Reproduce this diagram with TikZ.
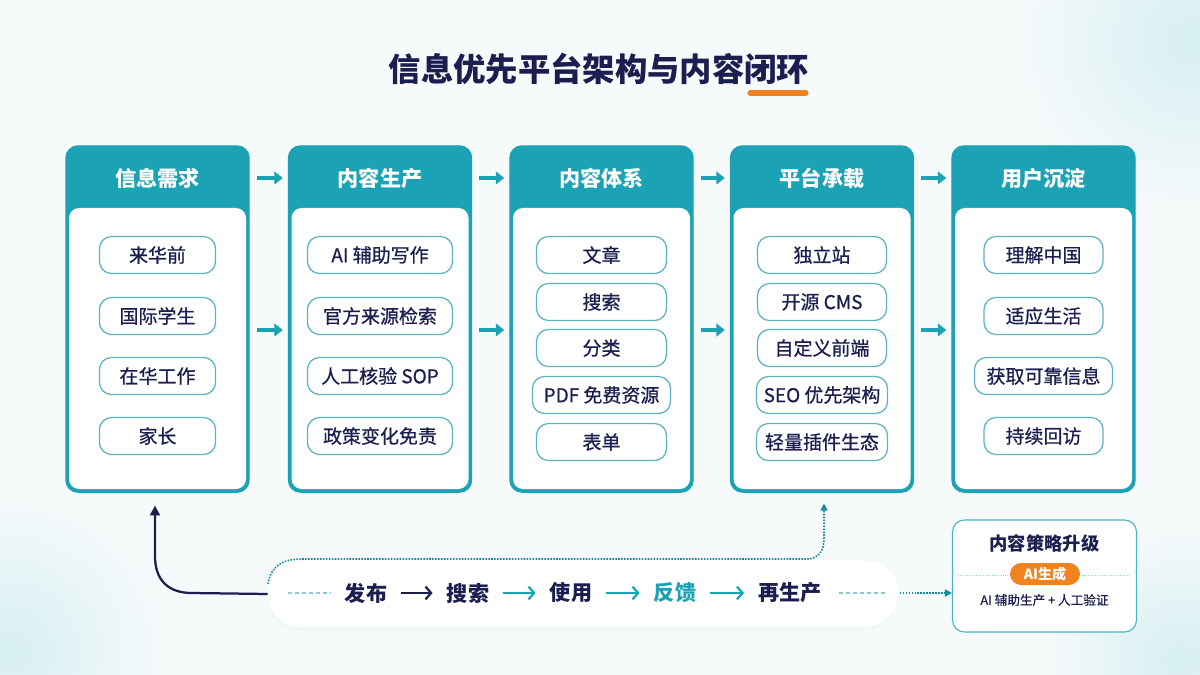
\documentclass[tikz,border=0pt]{standalone}
\usepackage{fontspec}
\setmainfont{Noto Sans CJK SC}
\newfontfamily\medfont{Noto Sans CJK SC}[FakeBold=0.7]
\usetikzlibrary{arrows.meta,positioning,shadows}

\definecolor{brandteal}{HTML}{1BA2B4}
\definecolor{inknavy}{HTML}{1B1E4F}
\definecolor{pillline}{HTML}{5DB4C0}
\definecolor{accent}{HTML}{F0821F}
\definecolor{bgcol}{HTML}{F7FAFB}
\definecolor{blob}{HTML}{D6EFF2}

\begin{document}
\begin{tikzpicture}[x=0.025cm, y=-0.025cm, >=Stealth,
  colbox/.style={draw=brandteal, fill=brandteal, line width=1pt, rounded corners=0.3cm,
    minimum width=4.575cm, minimum height=8.65cm,
    drop shadow={shadow xshift=0pt, shadow yshift=-2pt, opacity=0.12, fill=brandteal!40}},
  head/.style={text=white, font=\bfseries\fontsize{15}{18}\selectfont},
  pill/.style={draw=pillline, line width=0.9pt, fill=white, rounded corners=0.3cm,
    minimum height=0.925cm, text=inknavy, font=\medfont\fontsize{13.5}{16}\selectfont},
  flow/.style={brandteal, line width=2.6pt, -{Triangle[length=6pt,width=9pt]},
    shorten <=0.175cm, shorten >=0.125cm},
  bandtxt/.style={inner sep=0pt, text=inknavy, font=\bfseries\fontsize{15}{18}\selectfont},
  bandarrow/.style={brandteal, line width=1.6pt, -{Straight Barb[length=4pt,width=9pt]},
    shorten <=0.33cm, shorten >=0.35cm},
  loopdot/.style={brandteal!85!black, line width=1.1pt, densely dotted,
    -{Triangle[length=5pt,width=5pt]}},
  faintdash/.style={pillline!70, line width=0.8pt, densely dashed}]

\useasboundingbox (0,0) rectangle (1200,675);

% background
\fill[bgcol] (0,0) rectangle (1200,675);
\shade[inner color=blob, outer color=bgcol] (1190,40) circle (4.5cm);
\shade[inner color=blob, outer color=bgcol] (10,650) circle (4cm);
\shade[inner color=blob, outer color=bgcol] (1180,660) circle (3.5cm);

% title
\node[text=inknavy, font=\bfseries\fontsize{23}{28}\selectfont] (title) at (599,69) {信息优先平台架构与内容闭环};
\draw[accent, line width=3.6pt, line cap=round] (750,93) -- (806,93);

% five columns
\foreach \i/\x/\t in {1/157.5/信息需求, 2/380/内容生产, 3/601.5/内容体系, 4/822/平台承载, 5/1043.5/用户沉淀}{
  \node[colbox] (c\i) at (\x,319) {};
  \fill[white, rounded corners=0.25cm] ({\x-88.5},208) rectangle ({\x+88.5},489);
  \node[head] (h\i) at (\x,178) {\t};
}

% column items
\node[pill, minimum width=2.9cm] (need1) at (157.5,255) {来华前};
\node[pill, minimum width=2.9cm] (need2) at (157.5,316) {国际学生};
\node[pill, minimum width=2.9cm] (need3) at (157.5,376) {在华工作};
\node[pill, minimum width=2.9cm] (need4) at (157.5,436) {家长};

\node[pill, minimum width=3.625cm] (prod1) at (380,255) {AI 辅助写作};
\node[pill, minimum width=3.625cm] (prod2) at (380,316) {官方来源检索};
\node[pill, minimum width=3.625cm] (prod3) at (380,376) {人工核验 SOP};
\node[pill, minimum width=3.625cm] (prod4) at (380,436) {政策变化免责};

\node[pill, minimum width=3.25cm] (sys1) at (601.5,255) {文章};
\node[pill, minimum width=3.25cm] (sys2) at (601.5,302) {搜索};
\node[pill, minimum width=3.25cm] (sys3) at (601.5,348) {分类};
\node[pill, minimum width=3.45cm] (sys4) at (601.5,395) {PDF 免费资源};
\node[pill, minimum width=3.25cm] (sys5) at (601.5,442) {表单};

\node[pill, minimum width=3.225cm] (plat1) at (822,255) {独立站};
\node[pill, minimum width=3.225cm] (plat2) at (822,302) {开源 CMS};
\node[pill, minimum width=3.225cm] (plat3) at (822,348) {自定义前端};
\node[pill, minimum width=3.275cm] (plat4) at (822,395) {SEO 优先架构};
\node[pill, minimum width=3.275cm] (plat5) at (822,442) {轻量插件生态};

\node[pill, minimum width=2.975cm] (user1) at (1043.5,255) {理解中国};
\node[pill, minimum width=2.975cm] (user2) at (1043.5,316) {适应生活};
\node[pill, minimum width=3.45cm] (user3) at (1043.5,376) {获取可靠信息};
\node[pill, minimum width=2.975cm] (user4) at (1043.5,436) {持续回访};

% arrows between columns
\foreach \a/\b in {1/2, 2/3, 3/4, 4/5}{
  \draw[flow] (c\a.east |- h\a) -- (c\b.west |- h\b);
  \draw[flow] ([yshift=-0.275cm]c\a.east) -- ([yshift=-0.275cm]c\b.west);
}

% bottom loop band
\node[fill=white, rounded corners=0.8cm, minimum width=15.75cm, minimum height=1.65cm,
  drop shadow={shadow xshift=0pt, shadow yshift=-2pt, opacity=0.10, fill=brandteal!40}] (band) at (583,594) {};
\node[bandtxt] (pub) at (366,593) {发布};
\node[bandtxt] (srch) at (468,593) {搜索};
\node[bandtxt] (use) at (571,593) {使用};
\node[bandtxt, text=brandteal] (fb) at (675,593) {反馈};
\node[bandtxt] (regen) at (790,593) {再生产};

\draw[bandarrow, inknavy] (pub) -- (srch);
\draw[bandarrow] (srch) -- (use);
\draw[bandarrow] (use) -- (fb);
\draw[bandarrow] (fb) -- (regen);

\draw[faintdash] (288,593) -- (331,593);
\draw[faintdash] ([xshift=0.42cm]regen.east) -- ++(47,0) coordinate (dashend);

% loop back to the needs column
\draw[inknavy, line width=1.6pt, -{Triangle[length=7pt,width=7pt]}, shorten >=0.32cm]
  (band.west) -- (192,593) .. controls (168,593) and (155,580) .. (155,556) -- (c1.south -| 155,0);

% dotted path up to the platform column
\draw[loopdot, shorten >=0.27cm] (268,584) .. controls (271,566) and (282,559) .. (302,559)
  -- (806,559) .. controls (819,559) and (824,551) .. (824,538) -- (c4.south -| 824,0);

% upgrade box
\node[draw=brandteal!80, line width=0.8pt, fill=white, rounded corners=0.3cm,
  minimum width=4.6cm, minimum height=2.8cm] (upg) at (1044.5,576) {};
\draw[loopdot] ([xshift=0.35cm]dashend) -- (upg.west |- regen);
\node[text=inknavy, font=\bfseries\fontsize{13}{16}\selectfont] (upgt) at (1044.5,543) {内容策略升级};
\draw[pillline!60, line width=0.6pt, densely dotted] ([xshift=0.15cm]upg.west |- 0,575) -- ([xshift=-0.2cm]upg.east |- 0,575);
\node[fill=accent, text=white, rounded corners=0.28cm, minimum width=1.75cm, minimum height=0.55cm,
  inner sep=0pt, font=\bfseries\fontsize{10}{12}\selectfont] (aitag) at (1045,574) {AI生成};
\node[text=inknavy, font=\medfont\fontsize{9}{11}\selectfont] (upgd) at (1044.5,600) {AI 辅助生产 + 人工验证};

\end{tikzpicture}
\end{document}
